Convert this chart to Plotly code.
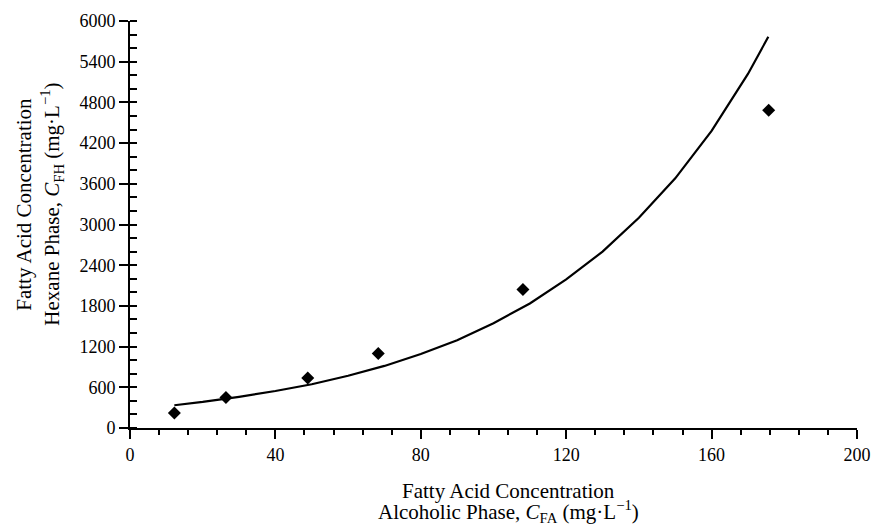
import plotly.graph_objects as go

# Measured data points (diamonds)
cfa_points = [12.2, 26.4, 48.9, 68.3, 108.1, 175.7]
cfh_points = [221, 448, 737, 1097, 2040, 4686]

# Fitted curve
curve_x = [12.2, 20, 30, 40, 50, 60, 70, 80, 90, 100, 110, 120, 130, 140, 150, 160, 170, 175.6]
curve_y = [335, 384, 460, 545, 645, 770, 915, 1090, 1295, 1545, 1835, 2190, 2600, 3100, 3680, 4380, 5220, 5767]

x_ticks = [0, 40, 80, 120, 160, 200]
y_ticks = [0, 600, 1200, 1800, 2400, 3000, 3600, 4200, 4800, 5400, 6000]

y_title_lines = ["Fatty Acid Concentration",
                 "Hexane Phase, <i>C</i><sub>FH</sub> (mg·L<sup>−1</sup>)"]
x_title_lines = ["Fatty Acid Concentration",
                 "Alcoholic Phase, <i>C</i><sub>FA</sub> (mg·L<sup>−1</sup>)"]

FONT = "Liberation Serif"

fig = go.Figure()
fig.add_trace(go.Scatter(x=curve_x, y=curve_y, mode="lines",
                         line=dict(color="black", width=2.2),
                         showlegend=False, hoverinfo="skip"))
fig.add_trace(go.Scatter(x=cfa_points, y=cfh_points, mode="markers",
                         marker=dict(symbol="diamond", size=10, color="black"),
                         showlegend=False))

annotations = []
# y-axis title (two rotated lines)
for txt, xp in zip(y_title_lines, [-0.145, -0.108]):
    annotations.append(dict(text=txt, xref="paper", yref="paper", x=xp, y=0.55,
                            xanchor="center", yanchor="middle", textangle=-90,
                            showarrow=False, font=dict(family=FONT, size=21)))
# x-axis title (two lines)
for txt, yp in zip(x_title_lines, [-0.155, -0.204]):
    annotations.append(dict(text=txt, xref="paper", yref="paper", x=0.521, y=yp,
                            xanchor="center", yanchor="middle",
                            showarrow=False, font=dict(family=FONT, size=21)))

fig.update_layout(
    width=872, height=526,
    margin=dict(l=130, r=15, t=21, b=98),
    paper_bgcolor="white", plot_bgcolor="white",
    font=dict(family=FONT, size=18, color="black"),
    xaxis=dict(range=[0, 200], tickvals=x_ticks, ticks="outside", ticklen=9, tickwidth=1.5,
               tickcolor="black", showline=True, linecolor="black", linewidth=2,
               showgrid=False, zeroline=False, automargin=False,
               tickfont=dict(family=FONT, size=18),
               minor=dict(dtick=8, ticks="outside", ticklen=5, tickwidth=1.5, tickcolor="black")),
    yaxis=dict(range=[0, 6000], tickvals=y_ticks, ticks="outside", ticklen=9, tickwidth=1.5,
               tickcolor="black", showline=True, linecolor="black", linewidth=2,
               showgrid=False, zeroline=False, automargin=False,
               tickfont=dict(family=FONT, size=18),
               minor=dict(dtick=200, ticks="inside", ticklen=7, tickwidth=1.5, tickcolor="black")),
    annotations=annotations,
)

fig.write_html("out.html", config={"displayModeBar": False},
               post_script="document.body.style.margin='0';document.body.style.overflow='hidden';")
